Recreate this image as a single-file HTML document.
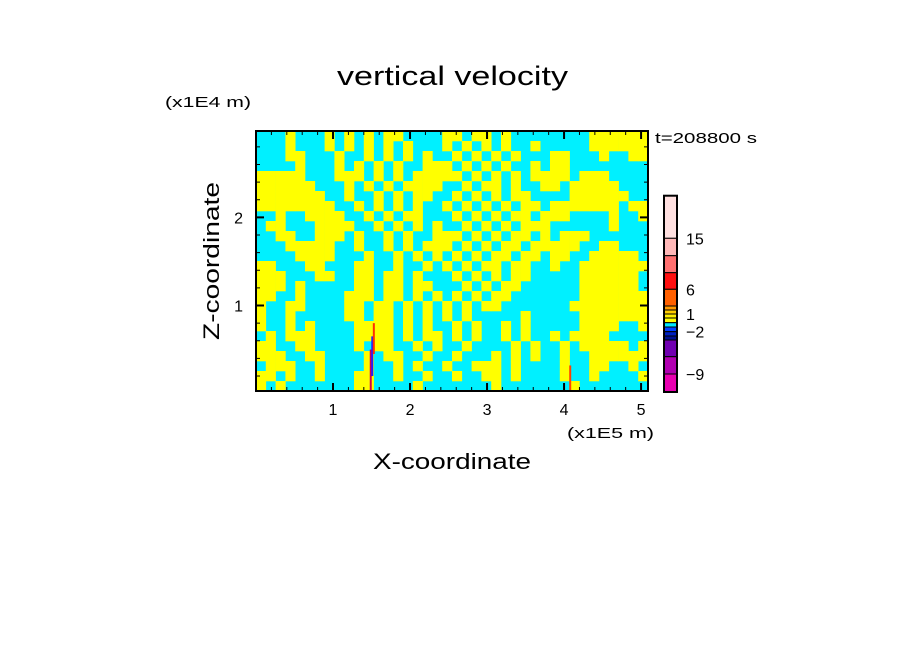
<!DOCTYPE html>
<html><head><meta charset="utf-8"><style>
body{margin:0;background:#fff}
svg text{font-family:"Liberation Sans",sans-serif;fill:#000}
</style></head><body>
<svg width="904" height="654" xmlns="http://www.w3.org/2000/svg">
<rect width="904" height="654" fill="#fff"/>
<text x="337" y="85" textLength="231" lengthAdjust="spacingAndGlyphs" font-size="27">vertical velocity</text>
<text x="165" y="107" textLength="86" lengthAdjust="spacingAndGlyphs" font-size="15">(x1E4 m)</text>
<text x="655" y="143" textLength="102" lengthAdjust="spacingAndGlyphs" font-size="15">t=208800 s</text>
<text x="567" y="438" textLength="87" lengthAdjust="spacingAndGlyphs" font-size="15">(x1E5 m)</text>
<text x="373" y="469" textLength="158" lengthAdjust="spacingAndGlyphs" font-size="22">X-coordinate</text>
<text transform="translate(219,340) rotate(-90)" textLength="158" lengthAdjust="spacingAndGlyphs" font-size="22">Z-coordinate</text>
<g id="field"></g>
<g id="axes"></g>
<g id="cbar"></g>
</svg>
<script>
const fieldRows = [
"...Y...Y.Y.Y.YY....YY.YY.Y........YYYYYY",
"...Y...Y.Y.Y.Y.Y...Y.Y.Y.Y..Y.....YYYYYY",
"...YY...Y..Y.Y.Y.Y..Y.Y.Y.Y...YY...Y..YY",
"....Y...Y.Y.Y.Y..YYY.Y.Y.Y..Y.YY........",
"YYYYY...YYY.Y.Y.YYYYY.Y.Y.Y.YYYY.YYY....",
"YYYYYY...Y.Y.Y.YYYY..Y.YY.Y..YY.YYYYY...",
"YYYYYYY..Y..Y.Y.YY..Y.Y.Y.YY....YYYYYY..",
"YYYYYYYY..Y.Y.Y.Y..Y.Y.Y.Y.YY.YYYYYYY.YY",
"..Y..YYYY..Y.Y.YY...Y.Y.Y.YY.YYY....Y..Y",
".YY...YYYY..Y.Y.Y.Y..Y.Y.Y.YYY......Y...",
"..YY..YYY.Y..Y.Y..YYY.Y.Y.YY.Y.YYY......",
"...YYYYY..Y..Y.Y.YYY.Y.Y.YY.YYYYY..YY...",
"....YYYY...Y..Y.Y.Y.Y.Y.YY.YY.YY..YYYYY.",
"YY...YY...YY..Y..Y.Y.Y.YY.YY..Y..YYYYYYY",
"YYY...YY..YY.YY.Y...Y.Y.Y.YY.....YYYYYY.",
"YYY.Y.....YY.YY.YY...Y.Y.YY......YYYYYY.",
"YY..Y....YYY.YY.Y.Y.Y.Y.YY.......YYYYYYY",
"Y..YY....YY.YY.Y.Y.Y.Y.YY.......YYYYYYYY",
"Y..Y.....YY.YY.Y.Y.Y.Y.....Y.....YYYYYYY",
"Y..Y.Y....YYYY.Y.Y..Y.Y..Y.Y.....YYYY..Y",
".Y.YYY....YYYY.Y.YY.Y.Y..Y.Y..Y.YYYY....",
"YY..YY....Y.YY..Y.Y..Y....Y.Y..Y.YYYYY.Y",
"YYY..YY....Y.YY..Y..Y...Y.Y.Y..Y..YYYYYY",
".YYY..Y....Y..Y.Y..Y..YYY.Y....Y..YY..Y.",
"YY.Y..Y...YY..Y..Y..Y..YY.Y....Y..Y....Y",
"Y.Y.......YY....Y.......Y.......Y......."
];
const xDomain = [0, 5.09];
const zDomain = [0.03, 2.98];
const xTicks = [1, 2, 3, 4, 5];
const zTicks = [1, 2];
const xTickLabels = ["1", "2", "3", "4", "5"];
const zTickLabels = ["1", "2"];
const streakX = [1.49, 1.51, 1.53, 4.08];
const streakZ0 = [0.03, 0.2, 0.45, 0.03];
const streakZ1 = [0.5, 0.65, 0.8, 0.32];
const streakColor = ["#d00050", "#2020ff", "#ff3000", "#ff4000"];
const cbColors = ["#ffe0e0","#ffb8b8","#ff7070","#ff1010","#ff6000","#ff9900","#ffcc00","#ffee00","#ffff00","#00e8ff","#0040ff","#0020c0","#001090","#7000b0","#b000b0","#e800b0"];
const cbBounds = [195.7,238.3,255.7,272.7,289.3,306,310,314,318,322.7,327,331.7,336,340,356.7,374,392];
const cbLabels = ["15","6","1","\u22122","\u22129"];
const cbLabelIdx = [1,4,7,11,15];

const X0=256, X1=648, Y0=391, Y1=131;
const xs = v => X0 + (v - xDomain[0]) / (xDomain[1] - xDomain[0]) * (X1 - X0);
const ys = v => Y0 - (v - zDomain[0]) / (zDomain[1] - zDomain[0]) * (Y0 - Y1);
const NS="http://www.w3.org/2000/svg";
function mk(tag, attrs, parent){const e=document.createElementNS(NS,tag);for(const k in attrs)e.setAttribute(k,attrs[k]);parent.appendChild(e);return e;}
const field=document.getElementById('field');
const nR=fieldRows.length, nC=fieldRows[0].length;
mk('rect',{x:X0,y:Y1,width:X1-X0,height:Y0-Y1,fill:'#00f0ff'},field);
const dx=(xDomain[1]-xDomain[0])/nC, dz=(zDomain[1]-zDomain[0])/nR;
for(let r=0;r<nR;r++){for(let c=0;c<nC;c++){if(fieldRows[r][c]!=='Y')continue;
 const xa=xs(xDomain[0]+c*dx), xb=xs(xDomain[0]+(c+1)*dx);
 const za=ys(zDomain[1]-r*dz), zb=ys(zDomain[1]-(r+1)*dz);
 const e=mk('rect',{x:xa,y:za,width:xb-xa+0.3,height:zb-za+0.3,fill:'#ffff00'},field);
 
 
}}
for(let i=0;i<streakX.length;i++){
 const e=mk('rect',{x:xs(streakX[i])-1,y:ys(streakZ1[i]),width:2,height:ys(streakZ0[i])-ys(streakZ1[i]),fill:streakColor[i]},field);
 
 
}
const axes=document.getElementById('axes');
mk('rect',{x:X0,y:Y1,width:X1-X0,height:Y0-Y1,fill:'none',stroke:'#000','stroke-width':2},axes);
for(let v=0.2;v<xDomain[1];v+=0.2){const major=Math.abs(v-Math.round(v))<1e-6;const L=major?8:4;const x=xs(v);
 mk('line',{x1:x,y1:Y0,x2:x,y2:Y0-L,stroke:'#000','stroke-width':major?2:1},axes);
 mk('line',{x1:x,y1:Y1,x2:x,y2:Y1+L,stroke:'#000','stroke-width':major?2:1},axes);}
for(let v=0.2;v<zDomain[1];v+=0.2){const major=Math.abs(v-Math.round(v))<1e-6;const L=major?8:4;const y=ys(v);
 mk('line',{x1:X0,y1:y,x2:X0+L,y2:y,stroke:'#000','stroke-width':major?2:1},axes);
 mk('line',{x1:X1,y1:y,x2:X1-L,y2:y,stroke:'#000','stroke-width':major?2:1},axes);}
xTicks.forEach((v,i)=>{const t=mk('text',{x:xs(v),y:Y0+24,'text-anchor':'middle','font-size':16},axes);t.textContent=xTickLabels[i];
 
 });
zTicks.forEach((v,i)=>{const t=mk('text',{x:X0-13,y:ys(v)+6,'text-anchor':'end','font-size':16},axes);t.textContent=zTickLabels[i];
 
 });
const cb=document.getElementById('cbar');
cbColors.forEach((c,i)=>{const e=mk('rect',{x:664,y:cbBounds[i],width:13,height:cbBounds[i+1]-cbBounds[i],fill:c,stroke:'#000','stroke-width':1},cb);
 
 });
mk('rect',{x:664,y:cbBounds[0],width:13,height:cbBounds[cbBounds.length-1]-cbBounds[0],fill:'none',stroke:'#000','stroke-width':2},cb);
cbLabels.forEach((s,i)=>{const t=mk('text',{x:686,y:cbBounds[cbLabelIdx[i]]+6,'font-size':16},cb);t.textContent=s;
 
 });
</script>
</body></html>
